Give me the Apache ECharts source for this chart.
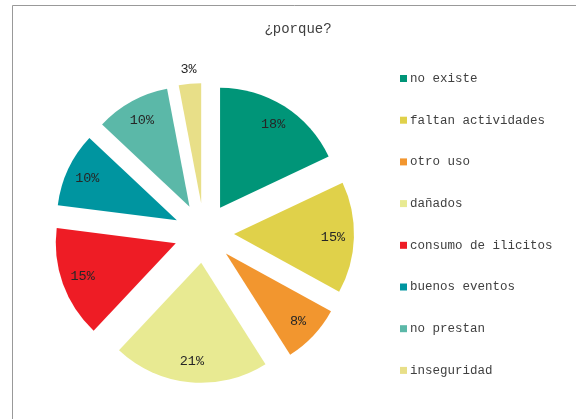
<!DOCTYPE html>
<html><head><meta charset="utf-8">
<script src="https://cdn.jsdelivr.net/npm/echarts@6/dist/echarts.min.js"></script>
<style>html,body{margin:0;padding:0;background:#fff}#c{width:577px;height:419px}</style>
</head><body><div id="c"></div>
<script>
const titleText = '¿porque?';
const categories = ['no existe','faltan actividades','otro uso','dañados','consumo de ilicitos','buenos eventos','no prestan','inseguridad'];
const values = [18,15,8,21,15,10,10,3];
const colors = ['#009578','#E0D14A','#F2962F','#E8EA92','#EE1C25','#0095A0','#5BB8A8','#E8DF88'];
const outsideLabelCats = ['inseguridad'];

const FONT = '"Liberation Mono", monospace';
const center = [204, 233];
const R = 120, OFF = 30;

const visData = categories.map((n,i)=>({name:n, value:values[i], selected:true, itemStyle:{color:colors[i]}}));
const inData = categories.map((n,i)=>({name:n, value:values[i], selected:true,
  label:{show: !outsideLabelCats.includes(n)}}));
const outData = categories.map((n,i)=>({name:n, value:values[i], selected:true,
  label:{show: outsideLabelCats.includes(n)}}));

const labelStyle = {position:'inside', formatter:(p)=>p.value+'%',
  fontFamily:FONT, fontSize:13.5, color:'#262626'};
const hidden = {type:'pie', center:center, startAngle:90, clockwise:true,
  selectedMode:'multiple', selectedOffset:OFF, avoidLabelOverlap:false,
  itemStyle:{color:'rgba(0,0,0,0)'}, emphasis:{disabled:true}, silent:true,
  labelLine:{show:false}, legendHoverLink:false};

const chart = echarts.init(document.getElementById('c'), null, {renderer:'canvas'});
chart.setOption({
  animation:false,
  backgroundColor:'#fff',
  title:{text:titleText, left:293, top:17, textAlign:'center',
    textStyle:{fontFamily:FONT, fontSize:14, fontWeight:'normal', color:'#404040'}},
  legend:{orient:'vertical', left:395, top:67, itemWidth:7, itemHeight:7, itemGap:28.7,
    icon:'rect', selectedMode:false, data:categories,
    textStyle:{fontFamily:FONT, fontSize:12.5, color:'#404040', padding:[0,0,0,-2]}},
  graphic:[{type:'polyline', shape:{points:[[12.5,419],[12.5,5.5],[576,5.5]]},
    style:{stroke:'#999', lineWidth:1, fill:null}, silent:true}],
  series:[
    {type:'pie', center:center, radius:[0,R], startAngle:90, clockwise:true,
     selectedMode:'multiple', selectedOffset:OFF, avoidLabelOverlap:false,
     label:{show:false}, labelLine:{show:false}, emphasis:{disabled:true},
     itemStyle:{borderWidth:0}, data:visData},
    Object.assign({}, hidden, {radius:[72,R], label:labelStyle, data:inData}),
    Object.assign({}, hidden, {radius:[R,142], label:labelStyle, data:outData})
  ]
});
</script></body></html>
